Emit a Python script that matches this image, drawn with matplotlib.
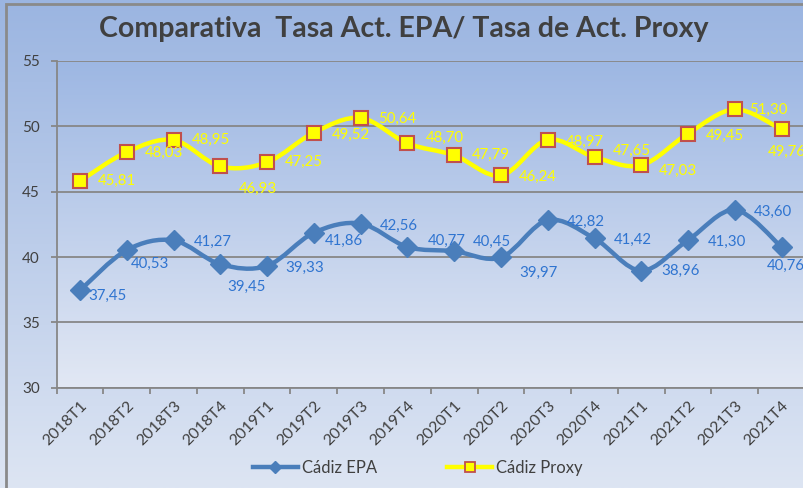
import numpy as np
import matplotlib
matplotlib.use('Agg')
import matplotlib.pyplot as plt
from matplotlib.path import Path
from matplotlib.patches import PathPatch, Rectangle
from matplotlib.lines import Line2D
from matplotlib.colors import LinearSegmentedColormap
from matplotlib.transforms import ScaledTranslation

plt.rcParams['font.family'] = ['Lato', 'DejaVu Sans']

trimestres = ['2018T1', '2018T2', '2018T3', '2018T4',
              '2019T1', '2019T2', '2019T3', '2019T4',
              '2020T1', '2020T2', '2020T3', '2020T4',
              '2021T1', '2021T2', '2021T3', '2021T4']
epa = [37.45, 40.53, 41.27, 39.45, 39.33, 41.86, 42.56, 40.77,
       40.45, 39.97, 42.82, 41.42, 38.96, 41.30, 43.60, 40.76]
proxy = [45.81, 48.03, 48.95, 46.93, 47.25, 49.52, 50.64, 48.70,
         47.79, 46.24, 48.97, 47.65, 47.03, 49.45, 51.30, 49.76]

# desplazamiento de las etiquetas en pixeles (x, y hacia abajo)
off_epa = [(27, 6), (23, 14), (39, 1), (26, 23), (38, 2), (30, 8), (38, 2), (39, -6),
           (38, -9), (38, 15), (38, 2), (38, 1), (39, 0), (39, 2), (38, 2), (4, 19)]
off_proxy = [(37, 0), (37, 1), (37, 0), (38, 22), (37, 0), (37, 2), (37, 1), (37, -5),
             (37, 0), (37, 1), (37, 2), (37, -6), (37, 6), (37, 2), (34, 1), (5, 22)]

c_epa = '#4a7ebb'
c_epa_txt = '#2f74d0'
c_proxy = '#ffff00'
c_grid = '#878787'
c_txt = '#404040'


def smooth_path(ys):
    # curva suavizada tipo Excel (Bezier por tramos)
    xs = np.arange(len(ys), dtype=float)
    p = np.column_stack([xs, ys])
    pts = [p[0]]
    codes = [Path.MOVETO]
    n = len(p)
    for i in range(n - 1):
        p0 = p[i - 1] if i > 0 else p[i]
        p3 = p[i + 2] if i + 2 < n else p[i + 1]
        c1 = p[i] + (p[i + 1] - p0) / 6
        c2 = p[i + 1] - (p3 - p[i]) / 6
        pts += [c1, c2, p[i + 1]]
        codes += [Path.CURVE4] * 3
    return Path(pts, codes)


fig = plt.figure(figsize=(8.04, 4.88), dpi=100)

# fondo degradado
bg = fig.add_axes([0, 0, 1, 1], zorder=-10)
bg.set_axis_off()
cm_fig = LinearSegmentedColormap.from_list('f', ['#9bb5e1', '#dde5f3'])
bg.imshow(np.linspace(0, 1, 256).reshape(-1, 1), aspect='auto', cmap=cm_fig,
          extent=[0, 1, 0, 1], transform=bg.transAxes)
bg.add_patch(Rectangle((6.5 / 804, -0.1), 1.2, 1.1 - 4.5 / 488, transform=bg.transAxes,
                       fill=False, edgecolor='#8a8a8a', lw=2))
bg.set_xlim(0, 1)
bg.set_ylim(0, 1)

ax = fig.add_axes([56.6 / 804, 100.3 / 488, 748.4 / 804, 326.7 / 488])
cm_ax = LinearSegmentedColormap.from_list('a', ['#9db7e3', '#e2e8f4'])
ax.imshow(np.linspace(0, 1, 256).reshape(-1, 1), aspect='auto', cmap=cm_ax,
          extent=[-0.5, 15.5, 30, 55], zorder=0)

ax.set_xlim(-0.5, 15.5)
ax.set_ylim(30, 55)
ax.set_yticks([30, 35, 40, 45, 50, 55])
ax.yaxis.grid(True, color=c_grid, lw=1.3)
ax.set_axisbelow(True)
for s in ['top', 'right']:
    ax.spines[s].set_visible(False)
for s in ['left', 'bottom']:
    ax.spines[s].set_color(c_grid)
    ax.spines[s].set_linewidth(1.3)

x = np.arange(len(trimestres))
ax.set_xticks(x)
ax.set_xticklabels(trimestres, rotation=45, ha='right', va='top',
                   rotation_mode='anchor', fontsize=11.5, color=c_txt)
shift = ScaledTranslation(-5 / 100, 0, fig.dpi_scale_trans)
for lab in ax.get_xticklabels():
    lab.set_transform(lab.get_transform() + shift)
ax.set_xticks(np.arange(-0.5, 16, 1), minor=True)
ax.tick_params(axis='x', which='major', length=0, pad=8)
ax.tick_params(axis='x', which='minor', length=4, color=c_grid, width=1.3)
ax.tick_params(axis='y', length=4, color=c_grid, width=1.3, pad=8,
               labelsize=11, labelcolor=c_txt)

ax.add_patch(PathPatch(smooth_path(epa), fill=False, edgecolor=c_epa, lw=3.2,
                       zorder=3, capstyle='round'))
ax.add_patch(PathPatch(smooth_path(proxy), fill=False, edgecolor=c_proxy, lw=3.2,
                       zorder=3, capstyle='round'))
ax.plot(x, epa, ls='none', marker='D', ms=10, color=c_epa, mec=c_epa, zorder=4)
ax.plot(x, proxy, ls='none', marker='s', ms=9.5, mfc=c_proxy, mec='#c0504d',
        mew=1.5, zorder=4)

for i in range(len(x)):
    ax.annotate(f'{epa[i]:.2f}'.replace('.', ','), (x[i], epa[i]),
                xytext=(off_epa[i][0] * 0.72, -off_epa[i][1] * 0.72),
                textcoords='offset points', ha='center', va='center',
                fontsize=10.8, color=c_epa_txt, zorder=5, annotation_clip=False)
    ax.annotate(f'{proxy[i]:.2f}'.replace('.', ','), (x[i], proxy[i]),
                xytext=(off_proxy[i][0] * 0.72, -off_proxy[i][1] * 0.72),
                textcoords='offset points', ha='center', va='center',
                fontsize=10.8, color=c_proxy, zorder=5, annotation_clip=False)

fig.text(404 / 804, 1 - 29 / 488, 'Comparativa  Tasa Act. EPA/ Tasa de Act. Proxy',
         ha='center', va='center', fontsize=20.5, fontweight='bold', color=c_txt)

h1 = Line2D([], [], color=c_epa, lw=3.2, marker='D', ms=6, mec=c_epa)
h2 = Line2D([], [], color=c_proxy, lw=3.2, marker='s', ms=6.5, mfc=c_proxy,
            mec='#c0504d', mew=1.3)
fig.legend([h1, h2], ['Cádiz EPA', 'Cádiz Proxy'], loc='center',
           bbox_to_anchor=(418 / 804, 1 - 468 / 488), ncol=2, frameon=False,
           handlelength=2.7, columnspacing=4.2, handletextpad=0.25,
           prop={'size': 12}, labelcolor=c_txt)

fig.savefig('out.png', dpi=100)
